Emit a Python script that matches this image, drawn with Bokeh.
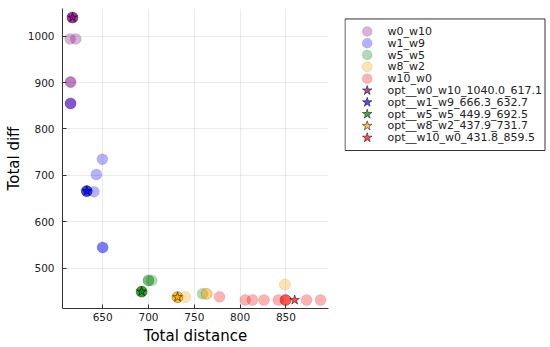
from bokeh.plotting import figure
from bokeh.layouts import row
from bokeh.models import Range1d, FixedTicker
from bokeh.embed import file_html
from bokeh.resources import INLINE

names = ["w0_w10", "w1_w9", "w5_w5", "w8_w2", "w10_w0"]
colors = ["purple", "blue", "green", "orange", "red"]

# total distance (x) and total diff (y) of each run
w0_w10_dist = [617.1, 617.1, 617.1, 617.1, 614.5, 620.7, 615.0, 615.0, 615.0, 615.0]
w0_w10_diff = [1040.0, 1040.0, 1040.0, 1040.0, 994, 994, 901, 901, 855, 855]
w1_w9_dist = [632.7, 632.7, 632.7, 632.7, 649.7, 643.2, 640.5, 650.0, 650.0, 615.0]
w1_w9_diff = [666.3, 666.3, 666.3, 666.3, 735, 702, 665, 545, 545, 855]
w5_w5_dist = [692.5, 692.5, 692.5, 692.5, 700.0, 700.0, 703.5, 759.0]
w5_w5_diff = [449.9, 449.9, 449.9, 449.9, 474, 474, 474, 445]
w8_w2_dist = [731.7, 731.7, 731.7, 731.7, 740.2, 763.5, 763.5, 848.8]
w8_w2_diff = [437.9, 437.9, 437.9, 437.9, 438, 445, 445, 465]
w10_w0_dist = [805.5, 813.4, 826.0, 841.6, 849.6, 849.6, 849.6, 872.5, 887.7, 777.5]
w10_w0_diff = [431.8, 431.8, 431.8, 431.8, 431.8, 431.8, 431.8, 431.8, 431.8, 438.6]

opt_diff = [1040.0, 666.3, 449.9, 437.9, 431.8]
opt_dist = [617.1, 632.7, 692.5, 731.7, 859.5]

x_ticks = [650, 700, 750, 800, 850]
y_ticks = [500, 600, 700, 800, 900, 1000]

series_dist = [w0_w10_dist, w1_w9_dist, w5_w5_dist, w8_w2_dist, w10_w0_dist]
series_diff = [w0_w10_diff, w1_w9_diff, w5_w5_diff, w8_w2_diff, w10_w0_diff]

FONT = "DejaVu Sans"

p = figure(width=344, height=347,
           x_range=Range1d(606.2, 896.4), y_range=Range1d(413.5, 1059.4),
           output_backend="svg", toolbar_location=None,
           min_border_left=62, min_border_top=8, min_border_bottom=38,
           min_border_right=16)
p.outline_line_color = None
p.background_fill_color = "white"
p.border_fill_color = "white"

for ax in (p.xaxis[0], p.yaxis[0]):
    ax.major_tick_in = 4
    ax.major_tick_out = 0
    ax.minor_tick_in = 0
    ax.minor_tick_out = 0
    ax.axis_line_color = "#333333"
    ax.major_tick_line_color = "#333333"
    ax.major_label_text_font = FONT
    ax.major_label_text_font_size = "10.5px"
    ax.major_label_text_color = "#222222"
    ax.axis_label_text_font = FONT
    ax.axis_label_text_font_size = "15px"
    ax.axis_label_text_font_style = "normal"
    ax.axis_label_text_color = "black"

p.xaxis.ticker = FixedTicker(ticks=x_ticks)
p.yaxis.ticker = FixedTicker(ticks=y_ticks)
p.xaxis.axis_label = "Total distance"
p.yaxis.axis_label = "Total diff"
p.xaxis.major_label_standoff = 4
p.yaxis.major_label_standoff = 8
p.xaxis.axis_label_standoff = 3
p.yaxis.axis_label_standoff = 2

p.grid.grid_line_color = "black"
p.grid.grid_line_alpha = 0.08

for name, col, xs, ys in zip(names, colors, series_dist, series_diff):
    p.scatter(xs, ys, marker="circle", size=11, fill_color=col, fill_alpha=0.3,
              line_color="black", line_alpha=0.15, line_width=0.6)

for name, col, d, x in zip(names, colors, opt_diff, opt_dist):
    p.scatter([x], [d], marker="star", size=10, fill_color=col, fill_alpha=0.7,
              line_color="black", line_alpha=0.7, line_width=0.7)

# legend drawn as its own panel; its frame lines up with the main frame,
# and its ranges are in page pixels (y downwards)
lg = figure(width=206, height=347, x_range=Range1d(344, 550), y_range=Range1d(309, 8),
            output_backend="svg", toolbar_location=None,
            min_border_left=0, min_border_right=0, min_border_top=8, min_border_bottom=38,
            x_axis_location=None, y_axis_location=None)
lg.grid.visible = False
lg.outline_line_color = None
lg.border_fill_color = "white"
lg.background_fill_color = "white"

labels = names + [f"opt__{n}_{d:.1f}_{x:.1f}" for n, d, x in zip(names, opt_diff, opt_dist)]
row_y = [31 + 11.85 * i for i in range(len(labels))]
lg.quad(left=[344.5], right=[544.5], top=[18.5], bottom=[150.5], fill_color="white",
        line_color="#333333", line_width=1)
lg.scatter([366.7] * 5, row_y[:5], marker="circle", size=10, fill_color=colors, fill_alpha=0.3,
           line_color="black", line_alpha=0.15, line_width=0.6)
lg.scatter([366.7] * 5, row_y[5:], marker="star", size=10, fill_color=colors, fill_alpha=0.7,
           line_color="black", line_alpha=0.7, line_width=0.7)
lg.text([387] * len(labels), row_y, text=labels, text_font_size="11px",
        text_baseline="middle", text_align="left", text_color="#222222",
        text_font={"value": FONT})

layout = row(p, lg)
open("out.html", "w").write(file_html(layout, INLINE))
